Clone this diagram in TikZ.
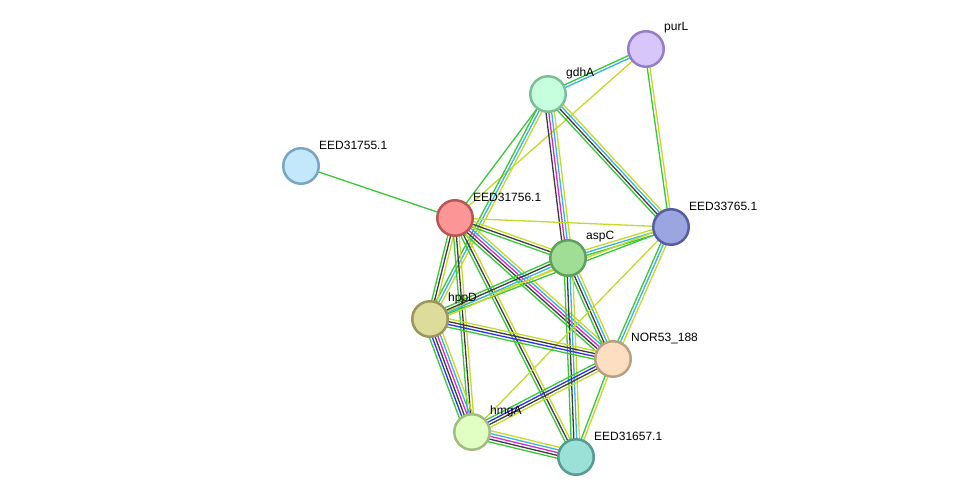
\documentclass[tikz,border=0pt]{standalone}
\usepackage{fontspec}
\setmainfont{Liberation Sans}
\usetikzlibrary{calc,backgrounds}
\definecolor{cgreen}{RGB}{55,200,55}
\definecolor{ccyan}{RGB}{55,180,225}
\definecolor{cmag}{RGB}{215,40,215}
\definecolor{cblack}{RGB}{60,60,60}
\definecolor{cyg}{RGB}{195,218,40}
\definecolor{cblue}{RGB}{45,45,240}
\tikzset{
  prot/.style={circle, draw, line width=2.5pt, minimum size=35.5pt, inner sep=0pt},
  lab/.style={anchor=west, inner sep=0pt, font=\fontsize{12}{14}\selectfont},
  edge/.style={line width=1.3pt}
}
\newcommand\bund[4]{%
  \foreach \c [count=\i] in {#4} {%
    \pgfmathsetmacro\off{(\i-(#3+1)/2)*2.8}%
    \draw[edge, color=\c] ($(#1.center)!\off pt!90:(#2.center)$) -- ($(#2.center)!\off pt!-90:(#1.center)$);
  }}
\begin{document}
\begin{tikzpicture}[x=1pt,y=-1pt]
\useasboundingbox (0,0) rectangle (976,503);
\node[prot, fill={rgb,255:red,214;green,198;blue,250}, draw={rgb,255:red,150;green,125;blue,200}] (purL) at (646,49) {};
\node[prot, fill={rgb,255:red,198;green,255;blue,222}, draw={rgb,255:red,125;green,190;blue,150}] (gdhA) at (548,94) {};
\node[prot, fill={rgb,255:red,195;green,232;blue,252}, draw={rgb,255:red,120;green,165;blue,195}] (e55) at (301,166) {};
\node[prot, fill={rgb,255:red,252;green,150;blue,150}, draw={rgb,255:red,185;green,85;blue,85}] (e56) at (455,218) {};
\node[prot, fill={rgb,255:red,155;green,165;blue,225}, draw={rgb,255:red,85;green,95;blue,160}] (e65) at (671,227) {};
\node[prot, fill={rgb,255:red,160;green,222;blue,150}, draw={rgb,255:red,95;green,160;blue,90}] (aspC) at (568,258) {};
\node[prot, fill={rgb,255:red,222;green,220;blue,155}, draw={rgb,255:red,155;green,150;blue,90}] (hppD) at (430,319) {};
\node[prot, fill={rgb,255:red,253;green,222;blue,192}, draw={rgb,255:red,185;green,160;blue,130}] (nor) at (613,359) {};
\node[prot, fill={rgb,255:red,225;green,255;blue,195}, draw={rgb,255:red,160;green,190;blue,130}] (hmgA) at (472,432) {};
\node[prot, fill={rgb,255:red,155;green,225;blue,215}, draw={rgb,255:red,85;green,155;blue,145}] (e57) at (576,457) {};

\node[lab] (purL-l) at ([shift={(18,-21)}]purL.center) {purL};
\node[lab] (gdhA-l) at ([shift={(18,-21)}]gdhA.center) {gdhA};
\node[lab] (e55-l) at ([shift={(18,-21)}]e55.center) {EED31755.1};
\node[lab] (e56-l) at ([shift={(18,-21)}]e56.center) {EED31756.1};
\node[lab] (e65-l) at ([shift={(18,-21)}]e65.center) {EED33765.1};
\node[lab] (aspC-l) at ([shift={(18,-21)}]aspC.center) {aspC};
\node[lab] (hppD-l) at ([shift={(18,-21)}]hppD.center) {hppD};
\node[lab] (nor-l) at ([shift={(18,-21)}]nor.center) {NOR53\_188};
\node[lab] (hmgA-l) at ([shift={(18,-21)}]hmgA.center) {hmgA};
\node[lab] (e57-l) at ([shift={(18,-21)}]e57.center) {EED31657.1};

\begin{pgfonlayer}{background}
\bund{purL}{gdhA}{2}{cgreen,ccyan}
\bund{purL}{e56}{1}{cyg}
\bund{purL}{e65}{2}{cgreen,cyg}
\bund{gdhA}{e56}{1}{cgreen}
\bund{gdhA}{hppD}{3}{cgreen,ccyan,cyg}
\bund{gdhA}{aspC}{4}{cblack,cmag,ccyan,cyg}
\bund{gdhA}{e65}{4}{cgreen,cblack,ccyan,cyg}
\bund{e55}{e56}{1}{cgreen}
\bund{e56}{e65}{1}{cyg}
\bund{e56}{aspC}{3}{cgreen,cblack,cyg}
\bund{e56}{nor}{5}{cgreen,cblack,cmag,ccyan,cyg}
\bund{e56}{e57}{3}{cgreen,cblack,cyg}
\bund{e56}{hppD}{3}{cgreen,cblack,cyg}
\bund{e56}{hmgA}{3}{cgreen,cblack,cyg}
\bund{aspC}{e65}{3}{cgreen,ccyan,cyg}
\bund{hppD}{e65}{2}{cgreen,cyg}
\bund{aspC}{hppD}{4}{cgreen,cblack,ccyan,cyg}
\bund{aspC}{nor}{4}{cgreen,cblack,ccyan,cyg}
\bund{aspC}{e57}{4}{cgreen,cblack,ccyan,cyg}
\bund{e65}{nor}{3}{cgreen,ccyan,cyg}
\bund{e65}{hmgA}{1}{cyg}
\bund{hppD}{nor}{4}{cgreen,cblue,cblack,cyg}
\bund{hppD}{hmgA}{6}{cgreen,cblue,cblack,cmag,ccyan,cyg}
\bund{nor}{hmgA}{4}{cgreen,cblue,cblack,cyg}
\bund{nor}{e57}{2}{cgreen,cyg}
\bund{hmgA}{e57}{5}{cgreen,cblack,cmag,ccyan,cyg}
\end{pgfonlayer}
\end{tikzpicture}
\end{document}
